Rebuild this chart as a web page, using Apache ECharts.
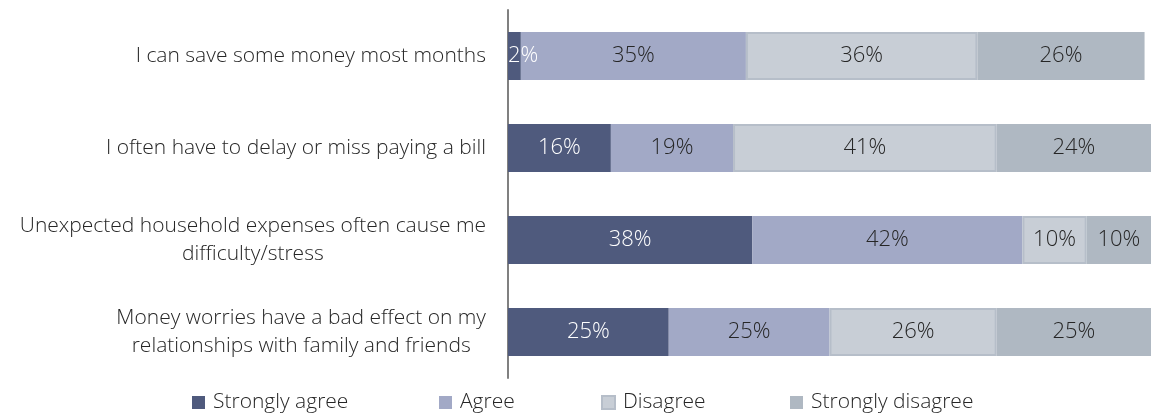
<!DOCTYPE html>
<html>
<head>
<meta charset="utf-8">
<script src="https://cdn.jsdelivr.net/npm/echarts@6/dist/echarts.min.js"></script>
<style>
  html, body { margin: 0; padding: 0; background: #ffffff; }
  #chart { width: 1151px; height: 416px; }
</style>
</head>
<body>
<div id="chart"></div>
<script>
// Survey statements (top to bottom)
const statements = [
  'I can save some money most months',
  'I often have to delay or miss paying a bill',
  'Unexpected household expenses often cause me\ndifficulty/stress',
  'Money worries have a bad effect on my\nrelationships with family and friends'
];

// Response shares, percent
const stronglyAgree    = [2, 16, 38, 25];
const agree            = [35, 19, 42, 25];
const disagree         = [36, 41, 10, 26];
const stronglyDisagree = [26, 24, 10, 25];

const seriesNames = ['Strongly agree', 'Agree', 'Disagree', 'Strongly disagree'];
const seriesColors = ['#4f5a7d', '#a2a9c6', '#c8ced6', '#afb8c2'];
const labelColors = ['#ffffff', '#262626', '#262626', '#262626'];
const seriesValues = [stronglyAgree, agree, disagree, stronglyDisagree];

const FONT = '"Open Sans", "Noto Sans", sans-serif';

const chart = echarts.init(document.getElementById('chart'), null, { renderer: 'canvas' });

const series = seriesNames.map((name, i) => ({
  name: name,
  type: 'bar',
  stack: 'total',
  barWidth: 48,
  data: seriesValues[i],
  itemStyle: {
    color: seriesColors[i],
    borderColor: i === 2 ? '#b6bec9' : seriesColors[i],
    borderWidth: i === 2 ? 2 : 0
  },
  label: {
    show: true,
    position: 'inside',
    formatter: '{c}%',
    color: labelColors[i],
    fontFamily: FONT,
    fontWeight: 300,
    fontSize: 22
  },
  // labels wider than a very thin segment start at the segment's left edge
  labelLayout: (params) => params.rect.width < 24
    ? {
        x: params.rect.x,
        y: params.rect.y + params.rect.height / 2,
        align: 'left',
        verticalAlign: 'middle'
      }
    : {},
  emphasis: { disabled: true }
}));

// Legend entries placed individually along the bottom row
const legendLefts = [192, 439, 601, 790];
const legends = seriesNames.map((name, i) => ({
  data: [name],
  left: legendLefts[i],
  top: 392,
  padding: 0,
  itemWidth: 13,
  itemHeight: 13,
  itemGap: 0,
  icon: 'rect',
  selectedMode: false,
  textStyle: {
    fontFamily: FONT,
    fontWeight: 300,
    fontSize: 21,
    color: '#262626',
    padding: [0, 0, 0, 3]
  }
}));

chart.setOption({
  animation: false,
  backgroundColor: '#ffffff',
  grid: { left: 508, right: 0, top: 10, bottom: 38, containLabel: false },
  legend: legends,
  xAxis: {
    type: 'value',
    min: 0,
    max: 100,
    show: false
  },
  yAxis: {
    type: 'category',
    inverse: true,
    data: statements,
    axisLine: { show: true, lineStyle: { color: '#808080', width: 2 } },
    axisTick: { show: false },
    axisLabel: {
      margin: 22,
      align: 'right',
      color: '#262626',
      fontFamily: FONT,
      fontWeight: 300,
      fontSize: 21,
      lineHeight: 28,
      formatter: (v) => v.split('\n').map(s => '{c|' + s + '}').join('\n'),
      rich: {
        c: {
          align: 'center',
          color: '#262626',
          fontFamily: FONT,
          fontWeight: 300,
          fontSize: 21,
          lineHeight: 28
        }
      }
    }
  },
  series: series
});
</script>
</body>
</html>
